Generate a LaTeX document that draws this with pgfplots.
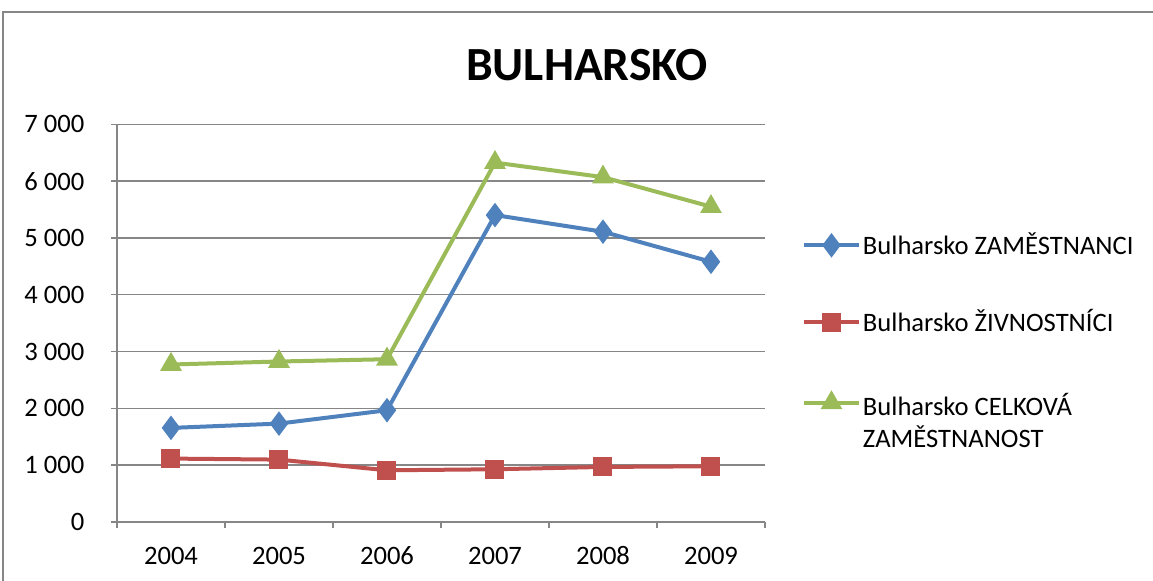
\documentclass[border=0pt]{standalone}
\usepackage{pgfplots}
\pgfplotsset{compat=1.18}
\usepackage{fontspec}
\setmainfont{Carlito}
\definecolor{sblue}{HTML}{4F81BD}
\definecolor{sred}{HTML}{C0504D}
\definecolor{sgreen}{HTML}{9BBB59}
\definecolor{gridgray}{HTML}{868686}
\begin{document}
\begin{tikzpicture}
\useasboundingbox (0pt,0pt) rectangle (576.5pt,-290.5pt);
\draw[gridgray, line width=1pt] (1.5pt,-291pt) -- (1.5pt,-6pt) -- (577pt,-6pt);
\node[font=\fontsize{23.8}{28}\selectfont\bfseries] at (293.5pt,-32.5pt) {BULHARSKO};
\begin{axis}[
  at={(58.5pt,-261pt)}, anchor=south west,
  scale only axis, width=324pt, height=198.85pt,
  xmin=-0.5, xmax=5.5, ymin=0, ymax=7000,
  xtick={0,...,5}, xticklabels={2004,2005,2006,2007,2008,2009},
  minor xtick={-0.5,0.5,...,5.5},
  ytick={0,1000,...,7000},
  yticklabels={0,1 000,2 000,3 000,4 000,5 000,6 000,7 000},
  ymajorgrids, grid style={gridgray, line width=0.75pt},
  axis x line*=bottom, axis y line*=left,
  axis line style={gridgray, line width=0.75pt, -},
  tick style={gridgray, line width=0.75pt},
  tick align=outside, major tick length=3pt, minor tick length=3pt,
  major x tick style={draw=none},
  ticklabel style={font=\fontsize{13.3}{16}\selectfont, text=black},
  xticklabel style={text height=9pt, text depth=0pt, yshift=-5pt},
  yticklabel style={xshift=-9pt},
  clip=false,
  line width=2pt,
  legend cell align=left,
  legend style={at={(1.054,0.737)}, anchor=north west, draw=none, fill=none,
    font=\fontsize{13.3}{16}\selectfont, row sep=24pt, inner sep=0pt,
    nodes={inner sep=1pt}},
  legend image code/.code={\draw[mark repeat=2,mark phase=2,#1] plot coordinates {(0pt,0pt)(13.75pt,0pt)(27.5pt,0pt)};},
]
\addplot[sblue, mark=diamond*, mark size=4.5pt] coordinates {
 (0,1656) (1,1732) (2,1967) (3,5402) (4,5109) (5,4580)};
\addlegendentry{Bulharsko ZAMĚSTNANCI}
\addplot[sred, mark=square*, mark size=3.75pt] coordinates {
 (0,1116) (1,1098) (2,910) (3,928) (4,969) (5,981)};
\addlegendentry{Bulharsko ŽIVNOSTNÍCI}
\addplot[sgreen, mark=triangle*, mark size=4.3pt] coordinates {
 (0,2772) (1,2825) (2,2865) (3,6326) (4,6070) (5,5550)};
\addlegendentry{\rule{0pt}{14.5pt}\rlap{\smash{\raisebox{-16pt}{ZAMĚSTNANOST}}}Bulharsko CELKOVÁ}
\end{axis}
\end{tikzpicture}
\end{document}
